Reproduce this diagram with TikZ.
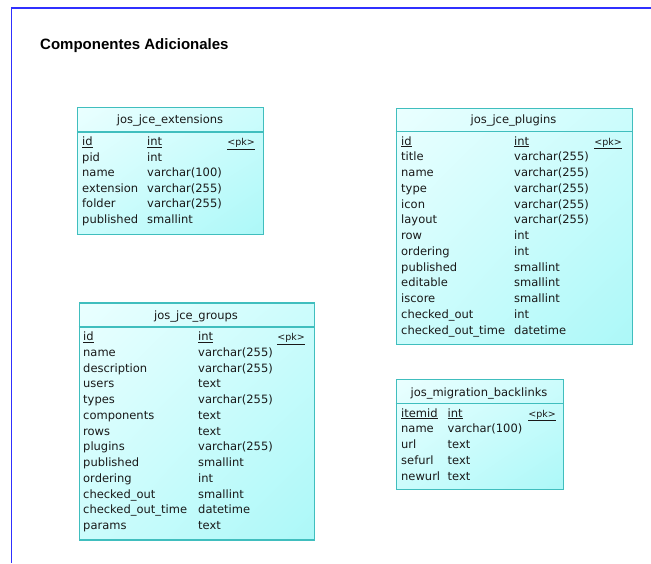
\documentclass[tikz,border=0pt]{standalone}
\usepackage{fontspec}
\usetikzlibrary{shadings}
\setmainfont{DejaVu Sans}
\newfontfamily\headfont{Liberation Sans}
\definecolor{framblue}{RGB}{48,48,255}
\definecolor{tblline}{RGB}{64,190,190}
\definecolor{fillA}{RGB}{234,255,255}
\definecolor{fillB}{RGB}{204,252,252}
\definecolor{fillC}{RGB}{172,248,248}
\definecolor{txt}{RGB}{25,25,25}
\newcommand\fld[6]{%
  \node[cell] (#1n) at (#2,#4) {#5};
  \node[cell] (#1t) at (#3,#4) {#6};}
\begin{document}
\begin{tikzpicture}[x=1pt,y=-1pt,
  frameline/.style={draw=framblue,line width=1.5pt},
  tbl/.style={draw=tblline,line width=1.2pt,inner sep=0pt,anchor=north west,
    upper left=fillA,upper right=fillB,lower left=fillB,lower right=fillC},
  hline/.style={draw=tblline,line width=1.1pt},
  cell/.style={anchor=base west,inner sep=0pt,text=txt,font=\fontsize{11.5}{13}\selectfont},
  pk/.style={anchor=base east,inner sep=0pt,text=txt,font=\fontsize{9.5}{11}\selectfont},
  ttl/.style={anchor=base,inner sep=0pt,text=txt,font=\fontsize{11.5}{13}\selectfont},
  heading/.style={anchor=base west,inner sep=0pt,text=black,font=\headfont\bfseries\fontsize{15}{18}\selectfont}]
\useasboundingbox (0,0) rectangle (651,563);
\fill[white] (0,0) rectangle (651,563);
% frame
\coordinate (fTL) at (11.5,8);
\coordinate (fTR) at (651,8);
\coordinate (fBL) at (11.5,563);
\draw[frameline] (fTR) -- (fTL) -- (fBL);
\node[heading] (title) at (40,49) {Componentes Adicionales};

% ---------- jos_jce_extensions ----------
\node[tbl,minimum width=186pt,minimum height=127pt] (ext) at (77,107) {};
\coordinate (extHL) at (77,132);
\coordinate (extHR) at (263,132);
\draw[hline] (extHL) -- (extHR);
\node[ttl] (extTitle) at (170,123.5) {jos\_jce\_extensions};
\fld{ext1}{82}{147}{145.5}{\underline{id}}{\underline{int}}
\node[pk] (extPk) at (255,145.5) {\underline{<pk>}};
\fld{ext2}{82}{147}{161.1}{pid}{int}
\fld{ext3}{82}{147}{176.7}{name}{varchar(100)}
\fld{ext4}{82}{147}{192.3}{extension}{varchar(255)}
\fld{ext5}{82}{147}{207.9}{folder}{varchar(255)}
\fld{ext6}{82}{147}{223.5}{published}{smallint}

% ---------- jos_jce_plugins ----------
\node[tbl,minimum width=236pt,minimum height=236pt] (plg) at (395.5,107.5) {};
\coordinate (plgHL) at (395.5,131.7);
\coordinate (plgHR) at (631.5,131.7);
\draw[hline] (plgHL) -- (plgHR);
\node[ttl] (plgTitle) at (513.5,123) {jos\_jce\_plugins};
\fld{plg1}{401}{514}{145}{\underline{id}}{\underline{int}}
\node[pk] (plgPk) at (622,145) {\underline{<pk>}};
\fld{plg2}{401}{514}{160.75}{title}{varchar(255)}
\fld{plg3}{401}{514}{176.5}{name}{varchar(255)}
\fld{plg4}{401}{514}{192.25}{type}{varchar(255)}
\fld{plg5}{401}{514}{208}{icon}{varchar(255)}
\fld{plg6}{401}{514}{223.75}{layout}{varchar(255)}
\fld{plg7}{401}{514}{239.5}{row}{int}
\fld{plg8}{401}{514}{255.25}{ordering}{int}
\fld{plg9}{401}{514}{271}{published}{smallint}
\fld{plg10}{401}{514}{286.75}{editable}{smallint}
\fld{plg11}{401}{514}{302.5}{iscore}{smallint}
\fld{plg12}{401}{514}{318.25}{checked\_out}{int}
\fld{plg13}{401}{514}{334}{checked\_out\_time}{datetime}

% ---------- jos_jce_groups ----------
\node[tbl,minimum width=235pt,minimum height=237pt] (grp) at (78.5,302.3) {};
\coordinate (grpHL) at (78.5,327);
\coordinate (grpHR) at (313.5,327);
\draw[hline] (grpHL) -- (grpHR);
\node[ttl] (grpTitle) at (196,319) {jos\_jce\_groups};
\fld{grp1}{83}{198}{340.5}{\underline{id}}{\underline{int}}
\node[pk] (grpPk) at (305,340.5) {\underline{<pk>}};
\fld{grp2}{83}{198}{356.25}{name}{varchar(255)}
\fld{grp3}{83}{198}{372}{description}{varchar(255)}
\fld{grp4}{83}{198}{387.75}{users}{text}
\fld{grp5}{83}{198}{403.5}{types}{varchar(255)}
\fld{grp6}{83}{198}{419.25}{components}{text}
\fld{grp7}{83}{198}{435}{rows}{text}
\fld{grp8}{83}{198}{450.75}{plugins}{varchar(255)}
\fld{grp9}{83}{198}{466.5}{published}{smallint}
\fld{grp10}{83}{198}{482.25}{ordering}{int}
\fld{grp11}{83}{198}{498}{checked\_out}{smallint}
\fld{grp12}{83}{198}{513.75}{checked\_out\_time}{datetime}
\fld{grp13}{83}{198}{529.5}{params}{text}

% ---------- jos_migration_backlinks ----------
\node[tbl,minimum width=167pt,minimum height=109.5pt] (bkl) at (395.5,379) {};
\coordinate (bklHL) at (395.5,403.3);
\coordinate (bklHR) at (562.5,403.3);
\draw[hline] (bklHL) -- (bklHR);
\node[ttl] (bklTitle) at (479,396) {jos\_migration\_backlinks};
\fld{bkl1}{401}{447.5}{417}{\underline{itemid}}{\underline{int}}
\node[pk] (bklPk) at (556,417) {\underline{<pk>}};
\fld{bkl2}{401}{447.5}{432.75}{name}{varchar(100)}
\fld{bkl3}{401}{447.5}{448.5}{url}{text}
\fld{bkl4}{401}{447.5}{464.25}{sefurl}{text}
\fld{bkl5}{401}{447.5}{480}{newurl}{text}
\end{tikzpicture}
\end{document}
